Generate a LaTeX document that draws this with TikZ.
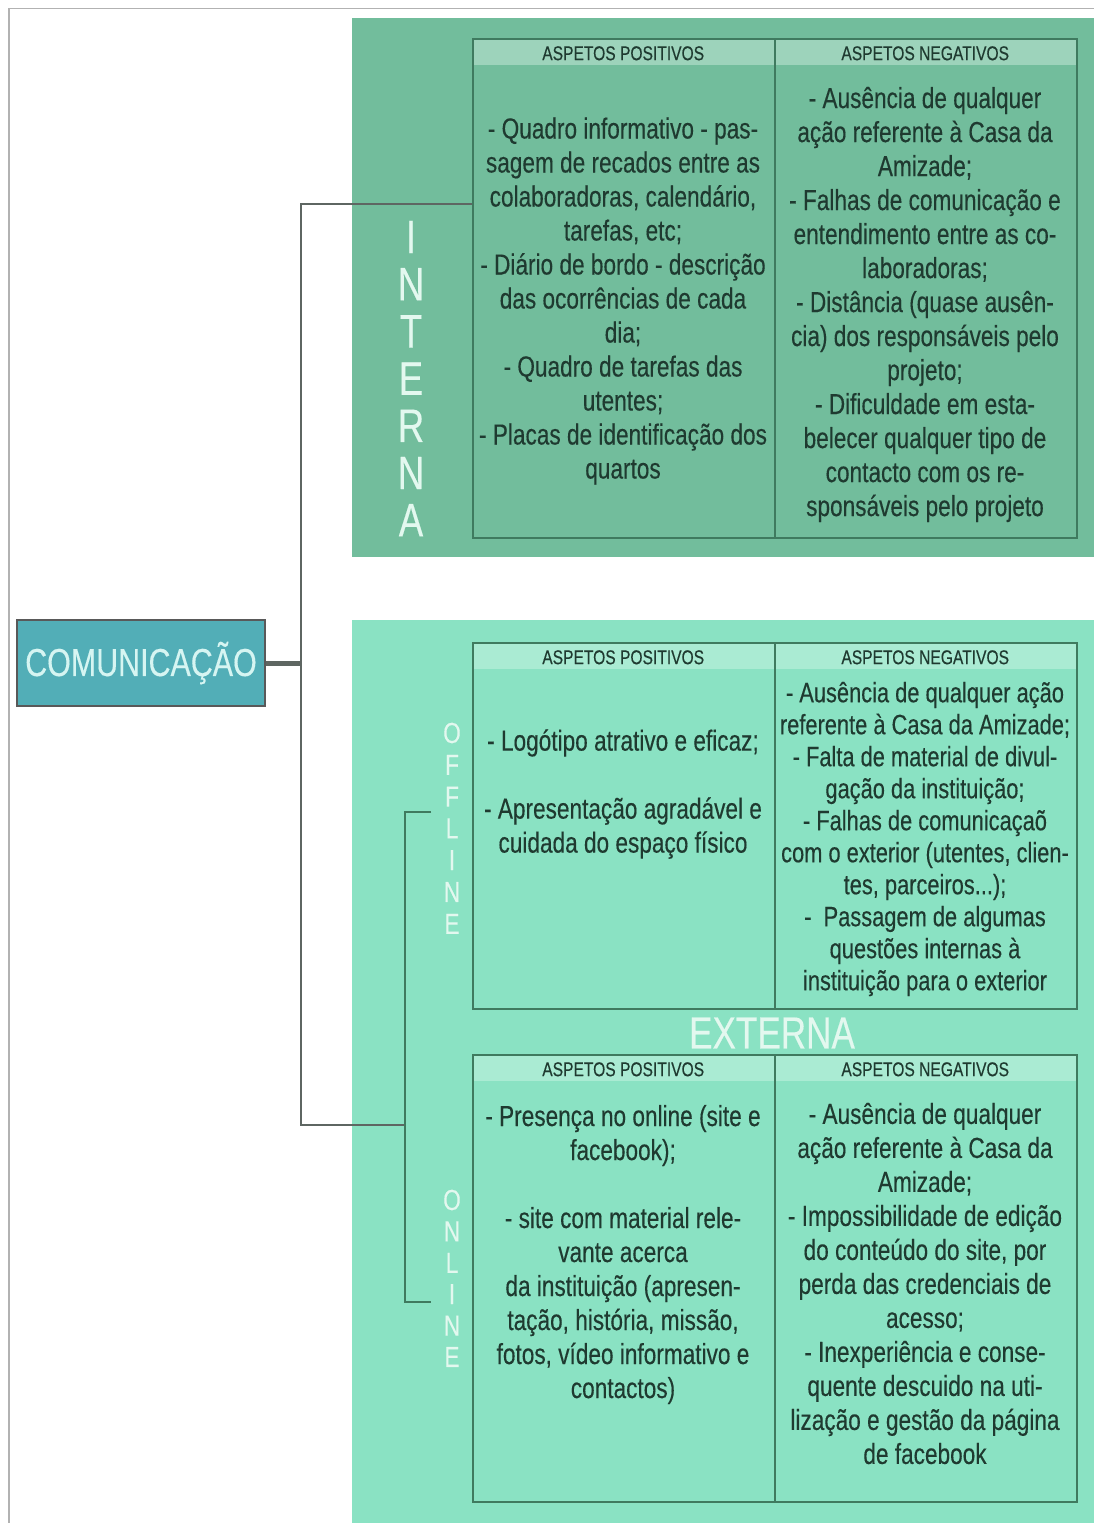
\documentclass[tikz,border=0pt]{standalone}
\usepackage{fontspec}
\setmainfont{Liberation Sans}[FakeStretch=0.78,FakeBold=0.3]
\usepackage{xcolor}
\usetikzlibrary{calc}

\definecolor{intpanel}{HTML}{72BD9C}
\definecolor{inthead}{HTML}{9DD3BB}
\definecolor{extpanel}{HTML}{8AE2C3}
\definecolor{exthead}{HTML}{AAEBD3}
\definecolor{gridline}{HTML}{3F7A5F}
\definecolor{bodytext}{HTML}{1F3A30}
\definecolor{paletext}{HTML}{E3F8EF}
\definecolor{comfill}{HTML}{52AEB7}
\definecolor{comtext}{HTML}{D6F5F2}
\definecolor{wire}{HTML}{5E6662}

\begin{document}
\begin{tikzpicture}[x=1pt,y=-1pt,
    hdr/.style={anchor=north west, minimum width=302, minimum height=27, inner sep=0,
        font=\fontsize{20}{24}\selectfont, text=bodytext, text height=19pt, text depth=2pt},
    frame/.style={draw=gridline, line width=1.5, anchor=north west, minimum width=302, inner sep=0},
    body/.style={align=center, inner sep=0, text=bodytext, font=\fontsize{29}{34}\selectfont},
    vlet/.style={inner sep=0, text=paletext},
    link/.style={draw=wire, line width=1.3},
    brack/.style={draw=gridline, line width=1.5}]
    \useasboundingbox (0,0) rectangle (1094,1523);
    \draw[gray!60, line width=1.3] (1094,8.5) -- (9,8.5) -- (9,1523);

    % panels
    \fill[intpanel] (352,18) rectangle (1094,557);
    \fill[extpanel] (352,620) rectangle (1094,1523);

    % interna table
    \node[hdr, fill=inthead] (iph) at (472,38) {ASPETOS POSITIVOS};
    \node[hdr, fill=inthead] (inh) at (774,38) {ASPETOS NEGATIVOS};
    \node[frame, minimum height=499] (ip) at (472,38) {};
    \node[frame, minimum height=499] (in) at (774,38) {};

    % offline table
    \node[hdr, fill=exthead] (oph) at (472,642) {ASPETOS POSITIVOS};
    \node[hdr, fill=exthead] (onh) at (774,642) {ASPETOS NEGATIVOS};
    \node[frame, minimum height=366] (op) at (472,642) {};
    \node[frame, minimum height=366] (on) at (774,642) {};

    % online table
    \node[hdr, fill=exthead] (lph) at (472,1054) {ASPETOS POSITIVOS};
    \node[hdr, fill=exthead] (lnh) at (774,1054) {ASPETOS NEGATIVOS};
    \node[frame, minimum height=447] (lp) at (472,1054) {};
    \node[frame, minimum height=447] (ln) at (774,1054) {};

    \node[body] (ip-t) at (623,301) {- Quadro informativo - pas-\\sagem de recados entre as\\colaboradoras, calendário,\\tarefas, etc;\\- Diário de bordo - descrição\\das ocorrências de cada\\dia;\\- Quadro de tarefas das\\utentes;\\- Placas de identificação dos\\quartos};
    \node[body] (in-t) at (925,304.5) {- Ausência de qualquer\\ação referente à Casa da\\Amizade;\\- Falhas de comunicação e\\entendimento entre as co-\\laboradoras;\\- Distância (quase ausên-\\cia) dos responsáveis pelo\\projeto;\\- Dificuldade em esta-\\belecer qualquer tipo de\\contacto com os re-\\sponsáveis pelo projeto};

    \node[body] (op-t) at (623,794) {- Logótipo atrativo e eficaz;\\[34pt]- Apresentação agradável e\\cuidada do espaço físico};
    \node[body, font=\fontsize{28}{32}\selectfont] (on-t) at (925,839) {- Ausência de qualquer ação\\referente à Casa da Amizade;\\- Falta de material de divul-\\gação da instituição;\\- Falhas de comunicaçaõ\\com o exterior (utentes, clien-\\tes, parceiros...);\\-\ \ Passagem de algumas\\questões internas à\\instituição para o exterior};

    \node[body] (lp-t) at (623,1254.5) {- Presença no online (site e\\facebook);\\[34pt]- site com material rele-\\vante acerca\\da instituição (apresen-\\tação, história, missão,\\fotos, vídeo informativo e\\contactos)};
    \node[body] (ln-t) at (925,1283.5) {- Ausência de qualquer\\ação referente à Casa da\\Amizade;\\- Impossibilidade de edição\\do conteúdo do site, por\\perda das credenciais de\\acesso;\\- Inexperiência e conse-\\quente descuido na uti-\\lização e gestão da página\\de facebook};

    \node[vlet, font=\fontsize{45}{45}\selectfont] (ext) at (772,1033) {EXTERNA};

    % vertical titles
    \foreach \l [count=\i] in {I,N,T,E,R,N,A}
        \node[vlet, font=\fontsize{47}{47}\selectfont] (int-\i) at (411,237+47.2*\i-47.2) {\l};
    \foreach \l [count=\i] in {O,F,F,L,I,N,E}
        \node[vlet, font=\fontsize{29}{29}\selectfont] (off-\i) at (452,733+31.8*\i-31.8) {\l};
    \foreach \l [count=\i] in {O,N,L,I,N,E}
        \node[vlet, font=\fontsize{29}{29}\selectfont] (onl-\i) at (452,1200+31.4*\i-31.4) {\l};

    % root
    \node[draw=gray!70!black, line width=1.5, fill=comfill, text=comtext, minimum width=248,
        minimum height=86, inner sep=0, font=\fontsize{39}{39}\selectfont] (com) at (141,663) {COMUNICAÇÃO};

    \coordinate (hub) at (301,663);
    \coordinate (up) at (301,204);
    \coordinate (down) at (301,1125);
    \coordinate (fork) at (405,1125);
    \coordinate (offend) at (431,812);
    \coordinate (onend) at (431,1302);

    \draw[wire, line width=5] (com.east) -- (hub);
    \draw[link] (ip.west |- up) -- (up) -- (down) -- (fork);
    \draw[brack] (offend) -- (offend -| fork) -- (onend -| fork) -- (onend);
\end{tikzpicture}
\end{document}
